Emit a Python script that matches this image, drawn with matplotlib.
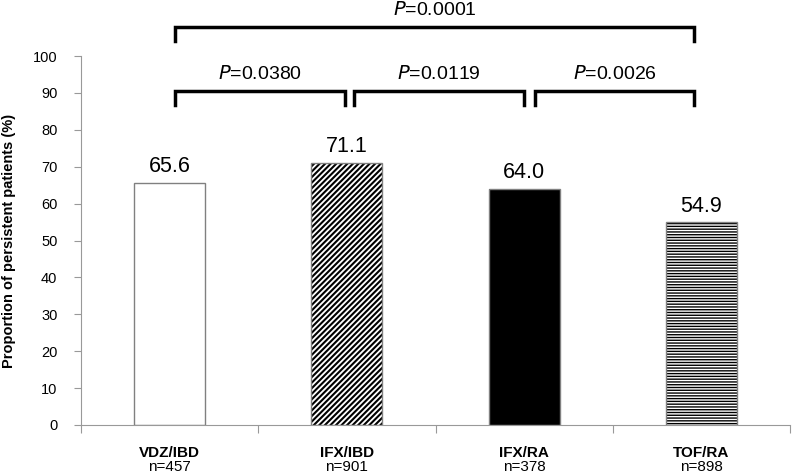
import matplotlib.pyplot as plt
import matplotlib.transforms as mtransforms

plt.rcParams["font.family"] = ["Liberation Sans", "DejaVu Sans"]

# ====== Dados ================================================================

groups  = ["VDZ/IBD", "IFX/IBD", "IFX/RA", "TOF/RA"]
n_pat   = ["n=457", "n=901", "n=378", "n=898"]
values  = [65.6, 71.1, 64.0, 54.9]
colors  = ["white", "white", "black", "white"]
hatches = ["", "//////", "", "------"]

# comparacoes: (x inicio, x fim, altura, texto)
comparisons = [
    (0.03, 0.99, 90.5, "0.0380"),
    (1.04, 2.00, 90.5, "0.0119"),
    (2.06, 2.96, 90.5, "0.0026"),
    (0.03, 2.96, 107.9, "0.0001"),
]

# ====== Figura ===============================================================

fig = plt.figure(figsize=(7.94, 4.73), dpi=100)
ax = fig.add_axes([0.102, 0.1015, 0.893, 0.78])

x = range(len(groups))
for i in x:
    plt.rcParams["hatch.linewidth"] = 1.5 if "/" in hatches[i] else 1.0
    # preenchimento + hachura preta
    ax.bar(i, values[i], width=0.4, color=colors[i], hatch=hatches[i],
           edgecolor="black", linewidth=0, zorder=2)
    # contorno cinza
    ax.bar(i, values[i], width=0.4, fill=False, edgecolor="#808080",
           linewidth=1.0, zorder=3)
    ax.text(i, values[i] + 1.5, f"{values[i]:.1f}", ha="center", va="bottom",
            fontsize=15.5)

ax.set_xlim(-0.5, 3.5)
ax.set_ylim(0, 100)
ax.set_yticks(range(0, 101, 10))
ax.tick_params(axis="y", labelsize=10.5, length=5, color="#999999", pad=12)

# eixo x: ticks nas divisas das categorias
ax.set_xticks([-0.5, 0.5, 1.5, 2.5, 3.5])
ax.set_xticklabels([])
ax.tick_params(axis="x", length=6, color="#999999")

for s in ["top", "right"]:
    ax.spines[s].set_visible(False)
ax.spines["left"].set_color("#999999")
ax.spines["bottom"].set_color("#999999")

trans = mtransforms.blended_transform_factory(ax.transData, fig.transFigure)
for i in x:
    ax.text(i, 1 - 453 / 473, groups[i], transform=trans, ha="center",
            va="center", fontsize=11, fontweight="bold")
    ax.text(i, 1 - 467 / 473, n_pat[i], transform=trans, ha="center",
            va="center", fontsize=11)

ax.set_ylabel("Proportion of persistent patients (%)", fontsize=10.5,
              fontweight="bold", labelpad=12)

# ====== Colchetes de significancia ===========================================

for x0, x1, h, p in comparisons:
    ax.plot([x0, x0, x1, x1], [h - 3.8, h, h, h - 3.8], color="black",
            linewidth=2.5, clip_on=False, solid_joinstyle="miter")
    ax.text((x0 + x1) / 2, h + 2.2, r"$\it{P}$=" + p, ha="center",
            va="bottom", fontsize=14, clip_on=False)

plt.savefig("out.png", dpi=100)
plt.close()
